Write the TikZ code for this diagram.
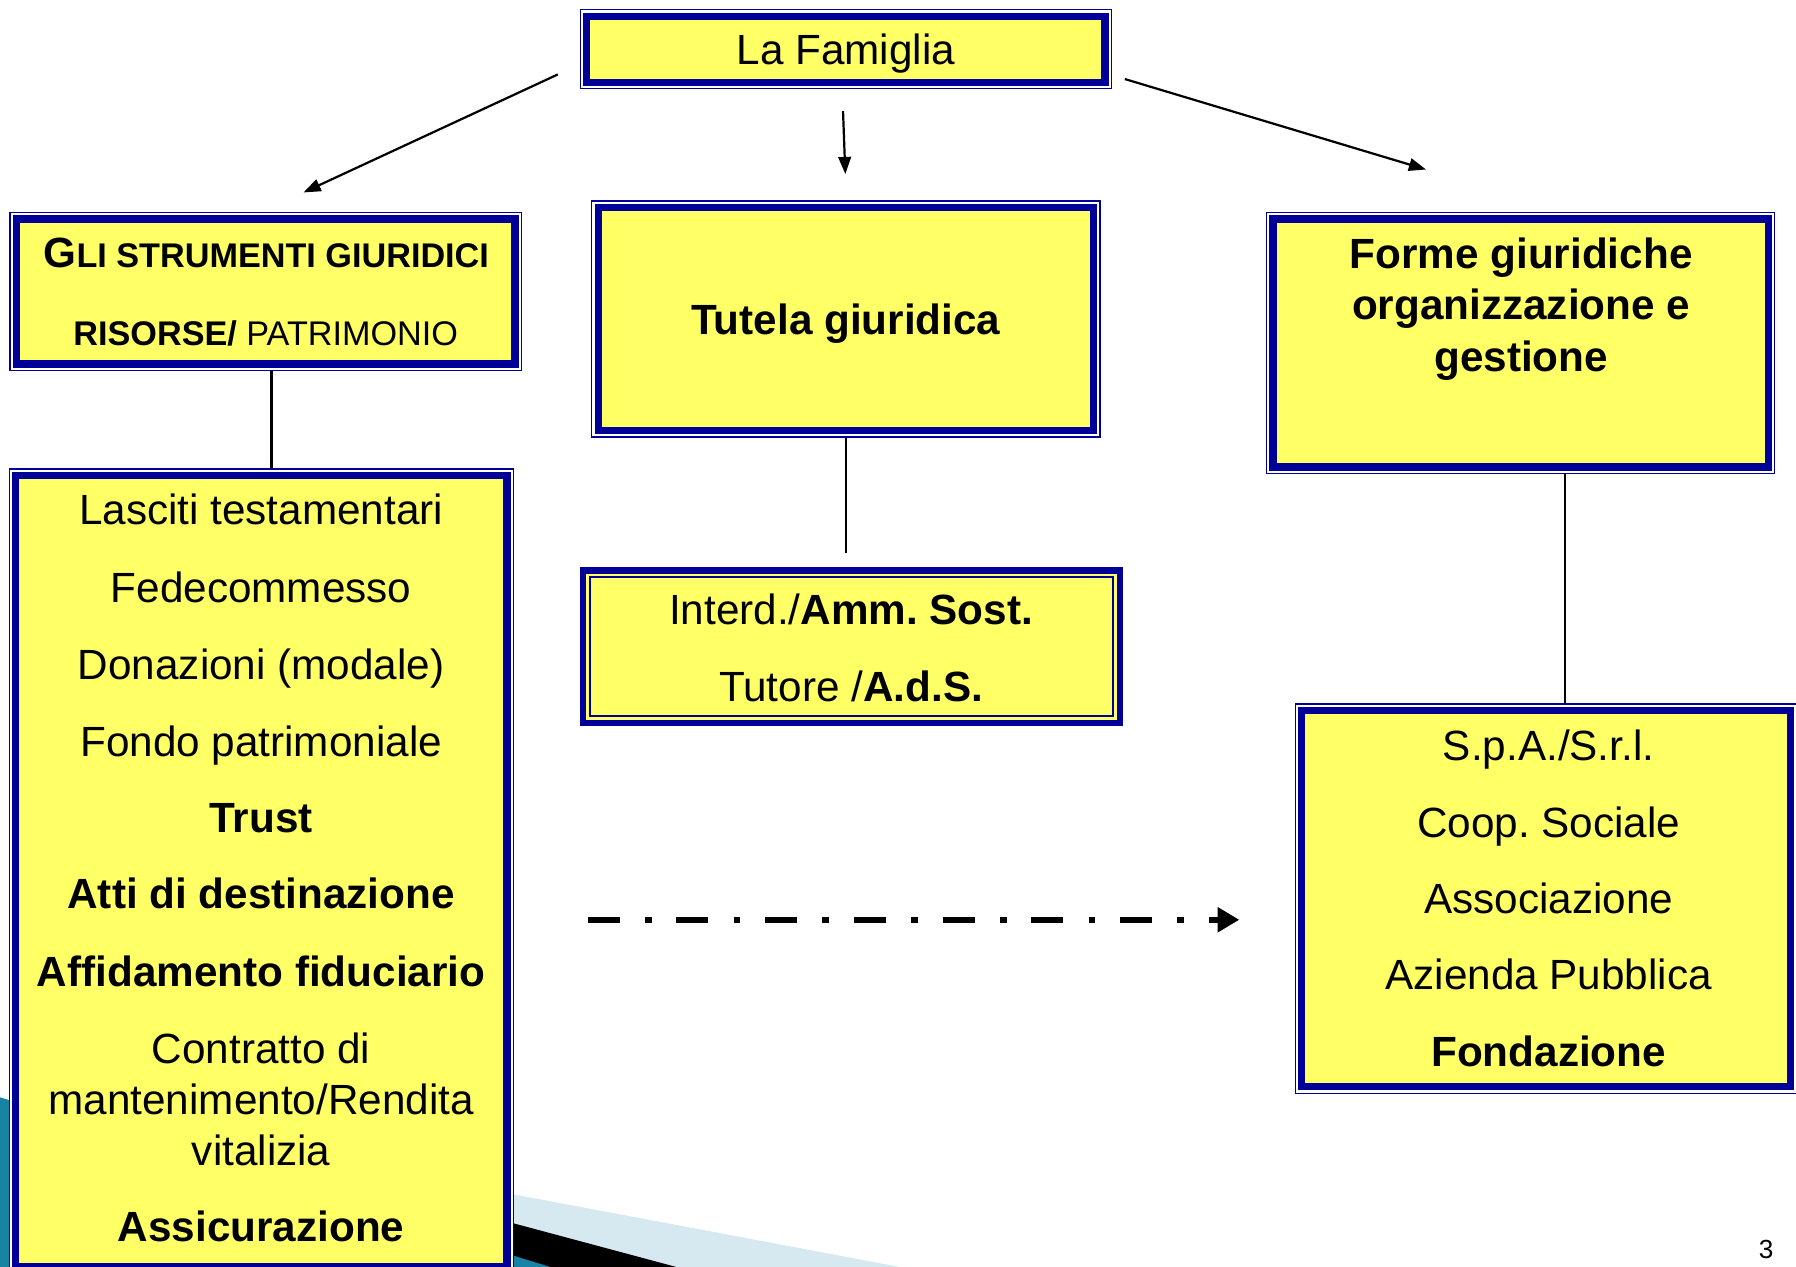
\documentclass[tikz,border=0pt]{standalone}
\usepackage{fontspec}
\setmainfont{Liberation Sans}
\usepackage{tikz}
\usetikzlibrary{arrows.meta}
\frenchspacing

\definecolor{giallo}{RGB}{255,255,102}
\definecolor{bordoblu}{RGB}{0,0,153}
\definecolor{azzurrino}{RGB}{214,232,240}
\definecolor{petrolio}{RGB}{24,132,165}

\tikzset{
  riquadro/.style={fill=giallo, draw=bordoblu, line width=3.6pt,
    preaction={draw=bordoblu, line width=7.2pt},
    preaction={draw=white, line width=5.8pt},
    inner sep=0pt, outer sep=3.6pt},
  riquadroinv/.style={fill=giallo, draw=bordoblu, line width=0.9pt,
    preaction={draw=bordoblu, line width=10.1pt},
    preaction={draw=giallo, line width=3.7pt},
    inner sep=0pt, outer sep=5.05pt},
  voce/.style={font=\fontsize{21}{25}\selectfont, text height=15pt, text depth=0pt, inner sep=0pt},
  vocepiccola/.style={font=\fontsize{17}{20}\selectfont, text height=12pt, text depth=0pt, inner sep=0pt},
  linea/.style={line width=1.1pt},
  freccia/.style={line width=1.1pt, -{Triangle[length=0.3cm,width=0.22cm]}},
  tratteggio/.style={line width=0.1cm, dash pattern=on 0.56cm off 0.44cm on 0.12cm off 0.43cm,
    -{Triangle[length=0.38cm,width=0.42cm]}}
}

\begin{document}
\begin{tikzpicture}[x=0.02cm, y=-0.02cm]
  \useasboundingbox (0,0) rectangle (1568,1106);
  \clip (0,0) rectangle (1568,1106);
  % fasce in basso
  \fill [azzurrino] (200,996) -- (785,1106) -- (200,1106) -- cycle;
  \fill [black] (150,988) -- (590,1106) -- (150,1106) -- cycle;
  \fill [petrolio] (0,958) -- (480,1106) -- (0,1106) -- cycle;

  \node[riquadro, voce, minimum width=9.05cm, minimum height=1.15cm] (famiglia) at (738.5,43) {La Famiglia};
  \node[riquadro, minimum width=8.71cm, minimum height=2.53cm] (strumenti) at (232,254.5) {};
  \node[riquadro, minimum width=8.58cm, minimum height=13.81cm] (elenco) at (228.25,760.5) {};
  \node[riquadro, voce, minimum width=8.65cm, minimum height=3.89cm] (tutela) at (738.5,278.5) {\textbf{Tutela giuridica}};
  \node[riquadroinv, minimum width=9.14cm, minimum height=2.42cm] (tutori) at (743.5,564.5) {};
  \node[riquadro, minimum width=8.65cm, minimum height=4.33cm] (forme) at (1327.5,299.5) {};
  \node[riquadro, minimum width=8.53cm, minimum height=6.57cm] (societa) at (1349.7,784.5) {};

  \node[vocepiccola] (strumenti-1) at (232.5,223) {\bfseries{\fontsize{21}{25}\selectfont G}LI STRUMENTI GIURIDICI};
  \node[vocepiccola] (strumenti-2) at (232,291) {\textbf{RISORSE/} PATRIMONIO};
  \foreach \y/\t [count=\i] in {445/{Lasciti testamentari}, 513/Fedecommesso, 580/{Donazioni (modale)},
      647/{Fondo patrimoniale}, 714/{\textbf{Trust}}, 780/{\textbf{Atti di destinazione}},
      848/{\textbf{Affidamento fiduciario}}, 915/{Contratto di}, 960/{mantenimento/Rendita},
      1004/vitalizia, 1071/{\textbf{Assicurazione}}}
    \node[voce] (elenco-\i) at (228,\y) {\t};
  \foreach \y/\t [count=\i] in {532/{Interd./\textbf{Amm. Sost.}}, 599/{Tutore /\textbf{A.d.S.}}}
    \node[voce] (tutori-\i) at (743,\y) {\t};
  \foreach \y/\t [count=\i] in {221/{Forme giuridiche}, 266/{organizzazione e}, 311/gestione}
    \node[voce, font=\bfseries\fontsize{21}{25}\selectfont] (forme-\i) at (1328,\y) {\t};
  \foreach \y/\t [count=\i] in {651/{S.p.A./S.r.l.}, 718/{Coop. Sociale}, 784/Associazione,
      851/{Azienda Pubblica}, 918/{\textbf{Fondazione}}}
    \node[voce] (societa-\i) at (1352,\y) {\t};

  \coordinate (a-sx) at (265,168);
  \coordinate (a-centro) at (738,152);
  \coordinate (a-dx) at (1245,148);
  \draw[freccia] ([shift={(-19,22)}]famiglia.west) -- (a-sx);
  \draw[freccia] ([shift={(-2.5,19)}]famiglia.south) -- (a-centro);
  \draw[freccia] ([shift={(11,26)}]famiglia.east) -- (a-dx);

  \coordinate (s1) at ([xshift=0.1cm]strumenti.south);
  \draw[linea] (s1) -- (s1 |- elenco.north);
  \coordinate (t1) at ([yshift=0.24cm]tutori.north);
  \draw[linea] (tutela.south) -- (tutela.south |- t1);
  \coordinate (f1) at ([xshift=0.77cm]forme.south);
  \draw[linea] (f1) -- (f1 |- societa.north);

  \coordinate (d-da) at (513,803);
  \coordinate (d-a) at (1082,803);
  \draw[tratteggio] (d-da) -- (d-a);

  \node[font=\fontsize{13}{15}\selectfont] (pagina) at (1542,1091) {3};
\end{tikzpicture}
\end{document}
